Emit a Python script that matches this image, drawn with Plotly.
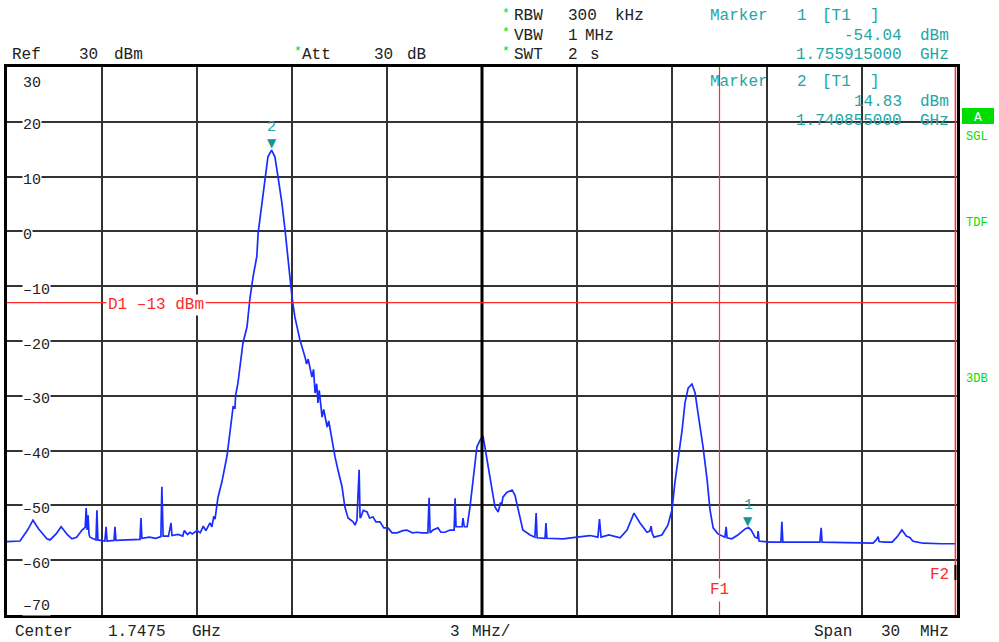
import plotly.graph_objects as go

# ---------------- data ----------------
freq_mhz = [
    1732.50, 1732.91, 1733.15, 1733.32, 1733.50, 1733.76, 1733.86, 1734.05, 1734.21, 1734.40,
    1734.55, 1734.70, 1734.87, 1734.97, 1735.00, 1735.03, 1735.06, 1735.09, 1735.12, 1735.28,
    1735.31, 1735.34, 1735.37, 1735.59, 1735.63, 1735.66, 1735.88, 1735.91, 1735.94, 1736.30,
    1736.70, 1736.73, 1736.76, 1737.00, 1737.20, 1737.36, 1737.39, 1737.43, 1737.60, 1737.68,
    1737.71, 1737.90, 1738.05, 1738.10, 1738.20, 1738.28, 1738.35, 1738.50, 1738.60, 1738.70,
    1738.78, 1738.91, 1738.97, 1739.03, 1739.07, 1739.16, 1739.29, 1739.45, 1739.54, 1739.61,
    1739.64, 1739.70, 1739.72, 1739.79, 1739.86, 1739.95, 1740.08, 1740.17, 1740.27, 1740.39,
    1740.43, 1740.55, 1740.65, 1740.74, 1740.855, 1740.96, 1741.06, 1741.18, 1741.28, 1741.37,
    1741.50, 1741.59, 1741.75, 1741.91, 1741.96, 1742.01, 1742.08, 1742.13, 1742.18, 1742.23,
    1742.28, 1742.32, 1742.36, 1742.45, 1742.50, 1742.61, 1742.66, 1742.76, 1742.86, 1742.95,
    1743.08, 1743.17, 1743.27, 1743.43, 1743.49, 1743.55, 1743.62, 1743.65, 1743.68, 1743.75,
    1743.87, 1743.95, 1744.06, 1744.15, 1744.28, 1744.40, 1744.53, 1744.66, 1744.82, 1745.00,
    1745.13, 1745.30, 1745.45, 1745.60, 1745.79, 1745.83, 1745.86, 1745.95, 1746.11, 1746.20,
    1746.33, 1746.49, 1746.62, 1746.65, 1746.68, 1746.87, 1746.90, 1746.94, 1747.03, 1747.12,
    1747.22, 1747.34, 1747.44, 1747.53, 1747.59, 1747.69, 1747.82, 1747.91, 1748.01, 1748.08,
    1748.13, 1748.16, 1748.29, 1748.45, 1748.54, 1748.64, 1748.79, 1749.02, 1749.17, 1749.21,
    1749.24, 1749.49, 1749.52, 1749.55, 1750.06, 1750.50, 1750.91, 1751.16, 1751.21, 1751.26,
    1751.51, 1751.86, 1752.08, 1752.30, 1752.49, 1752.71, 1752.80, 1752.84, 1752.87, 1752.93,
    1753.18, 1753.37, 1753.50, 1753.59, 1753.69, 1753.82, 1753.91, 1754.01, 1754.13, 1754.23,
    1754.32, 1754.48, 1754.61, 1754.70, 1754.80, 1754.95, 1755.17, 1755.21, 1755.24, 1755.39,
    1755.58, 1755.81, 1755.915, 1756.00, 1756.12, 1756.20, 1756.22, 1756.25, 1756.59, 1756.94,
    1756.97, 1757.00, 1757.60, 1758.17, 1758.21, 1758.24, 1759.00, 1759.85, 1759.95, 1760.01,
    1760.04, 1760.20, 1760.45, 1760.60, 1760.76, 1760.90, 1761.02, 1761.10, 1761.17, 1761.43,
    1762.00, 1762.44,
]
level_dbm = [
    -56.6, -56.5, -54.5, -52.7, -54.3, -56.1, -56.3, -55.2, -53.9, -55.3,
    -56.1, -55.8, -54.5, -54.0, -50.5, -54.5, -51.8, -55.3, -55.8, -56.2,
    -56.3, -50.9, -56.3, -56.5, -53.9, -56.5, -56.4, -53.9, -56.4, -56.3,
    -56.2, -52.3, -56.0, -55.8, -56.0, -55.7, -46.6, -55.6, -55.6, -53.2,
    -55.5, -55.3, -55.6, -54.6, -55.3, -54.9, -55.2, -54.6, -55.0, -53.8,
    -54.6, -53.2, -53.9, -52.0, -52.5, -48.6, -45.6, -40.9, -36.5, -33.8,
    -32.0, -32.2, -29.9, -27.8, -24.3, -20.4, -17.4, -12.3, -8.3, -4.5,
    -0.3, 5.2, 10.5, 13.6, 14.83, 13.6, 9.9, 5.2, 0.3, -4.7,
    -12.0, -15.6, -19.8, -22.9, -24.2, -23.3, -25.6, -26.6, -25.2, -29.5,
    -27.8, -31.3, -29.0, -33.9, -32.5, -35.7, -34.6, -38.1, -41.2, -43.5,
    -46.6, -50.3, -52.3, -53.0, -53.6, -52.7, -43.5, -52.3, -52.1, -50.9,
    -51.2, -52.3, -52.1, -53.0, -53.0, -54.1, -54.1, -55.0, -55.0, -54.6,
    -54.5, -55.0, -54.9, -55.0, -55.0, -48.6, -55.0, -54.5, -54.1, -54.9,
    -54.9, -54.5, -54.5, -48.7, -53.9, -53.9, -52.3, -53.9, -53.9, -50.3,
    -45.4, -39.3, -38.1, -37.3, -39.3, -43.0, -47.2, -50.3, -51.2, -49.6,
    -49.6, -48.5, -47.6, -47.2, -48.1, -50.8, -54.5, -55.4, -55.8, -51.4,
    -55.9, -56.0, -53.2, -56.0, -56.1, -55.8, -55.5, -55.8, -52.5, -55.8,
    -55.4, -55.9, -54.5, -51.4, -53.2, -54.9, -54.7, -53.8, -55.0, -55.8,
    -55.4, -53.6, -50.8, -45.9, -41.7, -36.2, -31.3, -28.6, -27.85, -29.5,
    -33.1, -39.3, -45.4, -50.8, -54.1, -55.2, -55.8, -53.9, -55.9, -56.1,
    -55.4, -54.3, -54.04, -54.5, -55.8, -56.0, -54.7, -56.5, -56.7, -56.7,
    -53.0, -56.7, -56.7, -56.7, -54.1, -56.7, -56.8, -56.9, -56.3, -55.7,
    -56.6, -56.7, -56.7, -55.8, -54.5, -55.6, -55.9, -56.5, -56.6, -56.9,
    -57.0, -57.0,
]

marker_ids = ["1", "2"]
marker_freq_mhz = [1755.915, 1740.855]
marker_level_dbm = [-54.04, 14.83]

y_tick_values = [30, 20, 10, 0, -10, -20, -30, -40, -50, -60, -70]
display_line_dbm = -13
f1_mhz = 1755.0
f2_mhz = 1762.45
center_ghz = 1.7475
span_mhz = 30
ref_dbm = 30
att_db = 30

F_START = center_ghz * 1000 - span_mhz / 2
F_STOP = center_ghz * 1000 + span_mhz / 2

# ---------------- style ----------------
FONT = "Liberation Mono"
TXT = "#222222"
TEAL = "#22a6a6"
TRI = "#119595"
RED = "#ff2a2a"
GREEN = "#00dd00"
BLUE = "#1a2cff"
GRID = "#333333"
FS = 16

L, R, T, B = 7, 42, 67, 27
W, H = 999, 642
PW, PH = W - L - R, H - T - B


def px(x):
    return (x - L) / PW


def py(y):
    return (H - B - y) / PH


fig = go.Figure()
fig.add_trace(go.Scatter(x=freq_mhz, y=level_dbm, mode="lines",
                         line=dict(color=BLUE, width=1.7), hoverinfo="skip"))

ann = []


def txt(s, x, y, color=TXT, anchor="left", size=FS, bg=None, family=FONT):
    d = dict(text=s, x=px(x), y=py(y), xref="paper", yref="paper",
             xanchor=anchor, yanchor="middle", showarrow=False,
             font=dict(family=family, size=size, color=color))
    if bg:
        d.update(bgcolor=bg, borderpad=0)
    ann.append(d)


# header
txt("Ref", 10, 55)
txt(f"{ref_dbm}", 77, 55)
txt("dBm", 112, 55)
txt("*", 292, 52, GREEN, size=13)
txt("Att", 300, 55)
txt(f"{att_db}", 372, 55)
txt("dB", 405, 55)

for row_y, name, val, unit, uv in [(16, "RBW", "300", "kHz", 613), (36, "VBW", "1", "MHz", 583),
                                   (55, "SWT", "2", "s", 588)]:
    txt("*", 500, row_y - 3, GREEN, size=13)
    txt(name, 512, row_y)
    txt(val, 566, row_y)
    txt(unit, uv, row_y)

# marker readouts
for i, (mid, mf, ml) in enumerate(zip(marker_ids, marker_freq_mhz, marker_level_dbm)):
    y0 = 16 + i * 66
    txt("Marker", 708, y0, TEAL)
    txt(mid, 795, y0, TEAL)
    txt("[T1", 820, y0, TEAL)
    txt("]", 868, y0, TEAL)
    txt(f"{ml:.2f}", 904, y0 + 20, TEAL, anchor="right")
    txt("dBm", 951, y0 + 20, TEAL, anchor="right")
    txt(f"{mf / 1000:.9f}", 904, y0 + 39, TEAL, anchor="right")
    txt("GHz", 951, y0 + 39, TEAL, anchor="right")

# footer
txt("Center", 13, 632)
txt(f"{center_ghz}", 106, 632)
txt("GHz", 190, 632)
txt("3", 448, 632)
txt("MHz/", 470, 632)
txt("Span", 812, 632)
txt(f"{span_mhz}", 879, 632)
txt("MHz", 951, 632, anchor="right")

# right side status
txt("SGL", 964, 137, GREEN, size=12)
txt("TDF", 964, 223, GREEN, size=12)
txt("3DB", 964, 379, GREEN, size=12)

# y tick labels (drawn over grid)
for v in y_tick_values:
    shift = -4
    if v == y_tick_values[0]:
        shift = -16
    elif v == y_tick_values[-1]:
        shift = 9
    ann.append(dict(text=str(v).replace("-", "–"), x=px(22), y=v, xref="paper", yref="y",
                    xanchor="left", yanchor="middle", yshift=shift, showarrow=False,
                    bgcolor="white", borderpad=0,
                    font=dict(family=FONT, size=15, color=TXT)))

# display line label
ann.append(dict(text=f"D1 –{abs(display_line_dbm)} dBm", x=px(106), y=display_line_dbm,
                xref="paper", yref="y", xanchor="left", yanchor="middle", yshift=-2,
                showarrow=False, bgcolor="white", borderpad=1,
                font=dict(family=FONT, size=FS, color=RED)))

# F1 / F2 labels
ann.append(dict(text="F1", x=f1_mhz, y=py(590), xref="x", yref="paper", xanchor="center",
                yanchor="middle", showarrow=False, bgcolor="white", borderpad=2,
                font=dict(family=FONT, size=FS, color=RED)))
txt("F2", 951, 575, RED, anchor="right")

# markers on trace
for mid, mf, ml in zip(marker_ids, marker_freq_mhz, marker_level_dbm):
    ann.append(dict(text="▼", x=mf, y=ml, xref="x", yref="y", xanchor="center",
                    yanchor="bottom", yshift=-2, showarrow=False,
                    font=dict(family="DejaVu Sans", size=12, color=TRI)))
    ann.append(dict(text=mid, x=mf, y=ml, xref="x", yref="y", xanchor="center",
                    yanchor="bottom", yshift=12, showarrow=False,
                    font=dict(family=FONT, size=15, color=TEAL)))

shapes = [
    # centre line
    dict(type="line", xref="x", yref="paper", x0=center_ghz * 1000, x1=center_ghz * 1000,
         y0=0, y1=1, line=dict(color="black", width=3)),
    # display line D1
    dict(type="line", xref="paper", yref="y", x0=0, x1=1, y0=display_line_dbm,
         y1=display_line_dbm, line=dict(color=RED, width=1.2)),
    # F1
    dict(type="line", xref="x", yref="paper", x0=f1_mhz, x1=f1_mhz, y0=0, y1=1,
         line=dict(color=RED, width=1.2)),
    # F2
    dict(type="line", xref="x", yref="paper", x0=f2_mhz, x1=f2_mhz, y0=0, y1=1,
         line=dict(color=RED, width=1.5)),
    # short black segment on right border
    dict(type="line", xref="x", yref="paper", x0=f2_mhz, x1=f2_mhz, y0=py(580), y1=py(565),
         line=dict(color="black", width=2)),
    # "A" status box
    dict(type="rect", xref="paper", yref="paper", x0=px(962), x1=px(994), y0=py(124),
         y1=py(108), fillcolor=GREEN, line=dict(width=0)),
]
txt("A", 978, 117, "white", anchor="center", size=13)

fig.update_layout(
    width=W, height=H,
    margin=dict(l=L, r=R, t=T, b=B, pad=0),
    paper_bgcolor="white", plot_bgcolor="white",
    showlegend=False,
    xaxis=dict(range=[F_START, F_STOP], tick0=F_START, dtick=3, showgrid=True,
               gridcolor=GRID, gridwidth=1.5, showticklabels=False, ticks="",
               zeroline=False, showline=True, mirror=True, linecolor="black", linewidth=3,
               fixedrange=True),
    yaxis=dict(range=[-70, 30], tick0=-70, dtick=10, showgrid=True, gridcolor=GRID,
               gridwidth=1.5, showticklabels=False, ticks="", zeroline=False,
               showline=True, mirror=True, linecolor="black", linewidth=2.5,
               fixedrange=True),
    annotations=ann,
    shapes=shapes,
)

fig.write_html("out.html", config={"displayModeBar": False},
               post_script="document.body.style.margin='0';document.body.style.overflow='hidden';")
